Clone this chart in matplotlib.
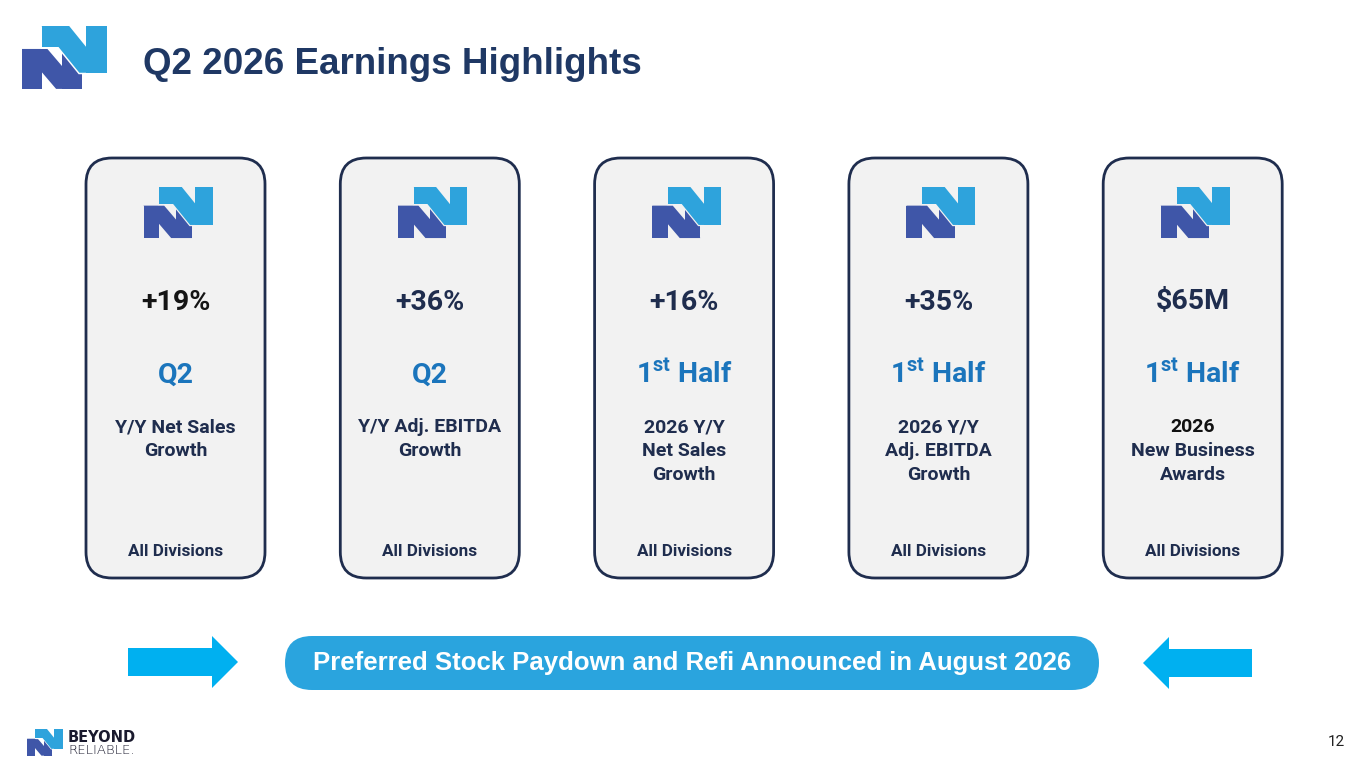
import matplotlib
matplotlib.use("Agg")
import matplotlib.pyplot as plt
from matplotlib.patches import FancyBboxPatch, Polygon

# slide content
title = "Q2 2026 Earnings Highlights"
values = ["+19%", "+36%", "+16%", "+35%", "$65M"]
periods = ["Q2", "Q2", "1st Half", "1st Half", "1st Half"]
descriptions = [
    ["Y/Y Net Sales", "Growth"],
    ["Y/Y Adj. EBITDA", "Growth"],
    ["2026 Y/Y", "Net Sales", "Growth"],
    ["2026 Y/Y", "Adj. EBITDA", "Growth"],
    ["2026", "New Business", "Awards"],
]
footers = ["All Divisions", "All Divisions", "All Divisions", "All Divisions", "All Divisions"]
banner_text = "Preferred Stock Paydown and Refi Announced in August 2026"
brand_top = "BEYOND"
brand_bottom = "RELIABLE."
page_number = "12"

NAVY = "#1F2D4E"
TITLE_NAVY = "#1F3864"
BLUE = "#1B75BC"
CARD_FILL = "#F2F2F2"
LOGO_DARK = "#3F56A8"
LOGO_LIGHT = "#2EA3DC"
BANNER = "#2AA4DE"
ARROW = "#00B0F0"

plt.rcParams["mathtext.fontset"] = "custom"
plt.rcParams["mathtext.rm"] = "Roboto:bold"
plt.rcParams["mathtext.it"] = "Roboto:bold"
plt.rcParams["mathtext.bf"] = "Roboto:bold"
plt.rcParams["mathtext.default"] = "rm"

fig = plt.figure(figsize=(13.65, 7.68), dpi=100)
ax = fig.add_axes([0, 0, 1, 1])
ax.set_xlim(0, 1365)
ax.set_ylim(768, 0)
ax.axis("off")


def draw_logo(x, y, w, halo_bg="white"):
    # two interlocking "N" shapes, drawn in unit space then scaled to pixels
    top_v = 0.74

    def pt(u, v):
        return (x + u * w, y + (top_v - v) * w)

    def n_parts(a, b, bot, top, t, left_bot):
        d = t * 1.3
        return [
            [pt(a, left_bot), pt(a, top), pt(a + t, top), pt(a + t, left_bot)],
            [pt(b - t, bot), pt(b - t, top), pt(b, top), pt(b, bot)],
            [pt(a, top), pt(a + d, top), pt(b, bot), pt(b - d, bot)],
        ]

    dark = n_parts(0.0, 0.70, 0.0, 0.47, 0.23, 0.0)
    light = n_parts(0.23, 1.0, 0.19, 0.74, 0.25, 0.49)
    for p in dark:
        ax.add_patch(Polygon(p, closed=True, fc=LOGO_DARK, ec="none", zorder=5))
    for p in light:
        ax.add_patch(Polygon(p, closed=True, fc=halo_bg, ec=halo_bg,
                             lw=w * 0.035 * 0.72, zorder=6))
    for p in light:
        ax.add_patch(Polygon(p, closed=True, fc=LOGO_LIGHT, ec="none", zorder=7))


# header
draw_logo(22, 26, 85)
ax.text(143, 64, title, fontsize=26.5, fontweight="bold", family="Liberation Sans",
        color=TITLE_NAVY, ha="left", va="center")

# cards
card_left0, card_pitch, card_w = 86, 254.3, 179
card_top, card_h = 158, 420
for i in range(len(values)):
    x0 = card_left0 + i * card_pitch
    cx = x0 + card_w / 2
    ax.add_patch(FancyBboxPatch((x0, card_top), card_w, card_h,
                                boxstyle="round,pad=0,rounding_size=26",
                                fc=CARD_FILL, ec=NAVY, lw=2.0, zorder=2))
    draw_logo(cx - 32, 187, 69, halo_bg=CARD_FILL)

    vcol = "#151515" if i == 0 else NAVY
    ax.text(cx, 302, values[i], fontsize=20.5, fontweight="bold", family="Roboto",
            color=vcol, ha="center", va="center", zorder=8)

    per = periods[i]
    if per.startswith("1st"):
        per = r"1$^{st}$" + per[3:]
    ax.text(cx, 375, per, fontsize=20.5, fontweight="bold", family="Roboto",
            color=BLUE, ha="center", va="center", zorder=8)

    for j, line in enumerate(descriptions[i]):
        lcol = "#111111" if (i == 4 and j == 0) else NAVY
        ax.text(cx, 427 + j * 24, line, fontsize=14, fontweight="bold",
                family="Roboto", color=lcol, ha="center", va="center", zorder=8)

    ax.text(cx, 552, footers[i], fontsize=12.3, fontweight="bold", family="Roboto",
            color=NAVY, ha="center", va="center", zorder=8)

# banner
ax.add_patch(FancyBboxPatch((285, 636), 814, 54,
                            boxstyle="round,pad=0,rounding_size=27",
                            fc=BANNER, ec="none", zorder=2))
ax.text(692, 663, banner_text, fontsize=18.5, fontweight="bold",
        family="Liberation Sans", color="white", ha="center", va="center", zorder=3)

# arrows pointing at the banner
ax.add_patch(Polygon([(128, 648), (212, 648), (212, 636), (238, 662),
                      (212, 688), (212, 676), (128, 676)],
                     closed=True, fc=ARROW, ec="none", zorder=2))
ax.add_patch(Polygon([(1252, 649), (1169, 649), (1169, 637), (1143, 663),
                      (1169, 689), (1169, 677), (1252, 677)],
                     closed=True, fc=ARROW, ec="none", zorder=2))

# footer brand and page number
draw_logo(27, 729, 36)
ax.text(68, 742.5, brand_top, fontsize=10.5, fontweight="bold", family="DejaVu Sans",
        color="#1A1A2E", ha="left", va="baseline")
ax.text(68, 754, brand_bottom, fontsize=9.5, fontweight="light", family="DejaVu Sans",
        color="#1A1A2E", ha="left", va="baseline")
ax.text(1345, 742, page_number, fontsize=11, family="Roboto", color="#222222",
        ha="right", va="center")

fig.savefig("out.png", dpi=100, facecolor="white")
